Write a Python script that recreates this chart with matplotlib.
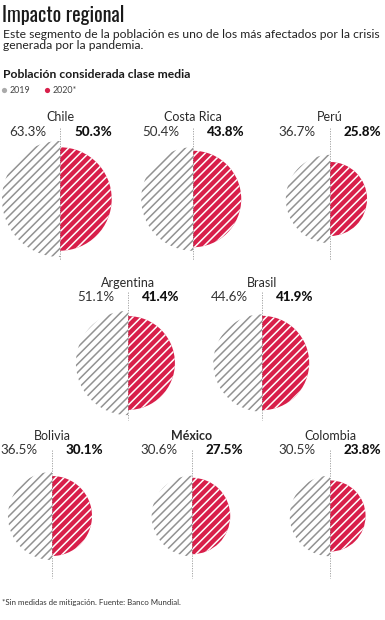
import matplotlib
matplotlib.use("Agg")
import matplotlib.pyplot as plt
from matplotlib.patches import Wedge, Circle
import numpy as np

# datos
paises = ["Chile", "Costa Rica", "Perú", "Argentina", "Brasil", "Bolivia", "México", "Colombia"]
v2019 = [63.3, 50.4, 36.7, 51.1, 44.6, 36.5, 30.6, 30.5]
v2020 = [50.3, 43.8, 25.8, 41.4, 41.9, 30.1, 27.5, 23.8]

# posiciones (pixeles) de cada pais
cx = [60, 193, 330, 128, 262, 52, 192, 330]
fila = [0, 0, 0, 1, 1, 2, 2, 2]
fila_cy = [199, 363, 516]
fila_nombre = [117, 283, 436]
fila_valor = [132, 297, 450]
fila_linea = [(128, 260), (292, 420), (450, 578)]

ROJO = "#d81f4a"
GRIS = "#929292"
escala = 58 / np.sqrt(63.3)  # radio en px por sqrt(valor)

plt.rcParams["font.family"] = ["Lato", "DejaVu Sans"]
plt.rcParams["hatch.linewidth"] = 1.1

fig = plt.figure(figsize=(3.85, 6.2), dpi=100)
ax = fig.add_axes([0, 0, 1, 1])
ax.set_xlim(0, 385)
ax.set_ylim(620, 0)
ax.set_aspect("equal")
ax.axis("off")

# titulos
ax.text(2, 15, "Impacto regional", fontsize=14.5, family=["Oswald", "DejaVu Sans"],
        color="#1a1a1a", va="center", ha="left")
ax.text(3, 40, "Este segmento de la población es uno de los más afectados por la crisis\ngenerada por la pandemia.",
        fontsize=8.7, color="#222222", va="center", ha="left", linespacing=1.0)
ax.text(3, 75, "Población considerada clase media", fontsize=8.7, fontweight="bold",
        color="#1a1a1a", va="center", ha="left")
ax.add_patch(Circle((4.5, 90.5), 2.6, color="#aaaaaa", lw=0))
ax.text(10, 90.5, "2019", fontsize=6.4, color="#444444", va="center")
ax.add_patch(Circle((47.5, 90.5), 2.6, color=ROJO, lw=0))
ax.text(53, 90.5, "2020*", fontsize=6.4, color="#444444", va="center")

for i, p in enumerate(paises):
    f = fila[i]
    x = cx[i]
    cy = fila_cy[f]
    r1 = escala * np.sqrt(v2019[i])
    r2 = escala * np.sqrt(v2020[i])
    ax.add_patch(Wedge((x, cy), r1, 90, 270, facecolor="white", edgecolor=GRIS,
                       hatch="////", lw=0))
    ax.add_patch(Wedge((x, cy), r2, 270, 90, facecolor=ROJO, edgecolor="white",
                       hatch="////", lw=0))
    y0, y1 = fila_linea[f]
    ax.plot([x, x], [y0, y1], color="#999999", lw=0.6, ls=(0, (1.5, 1.5)))
    ax.text(x, fila_nombre[f], p, fontsize=9, ha="center", va="center", color="#2a2a2a",
            fontweight="bold" if p == "México" else "normal")
    ax.text(x - 14, fila_valor[f], f"{v2019[i]:.1f}%", fontsize=9.6, ha="right", va="center",
            color="#333333")
    ax.text(x + 14, fila_valor[f], f"{v2020[i]:.1f}%", fontsize=9.6, ha="left", va="center",
            color="#111111", fontweight="black")

ax.text(2, 603, "*Sin medidas de mitigación. Fuente: Banco Mundial.", fontsize=5.7,
        color="#333333", va="center", ha="left")

fig.savefig("out.png", dpi=100)
